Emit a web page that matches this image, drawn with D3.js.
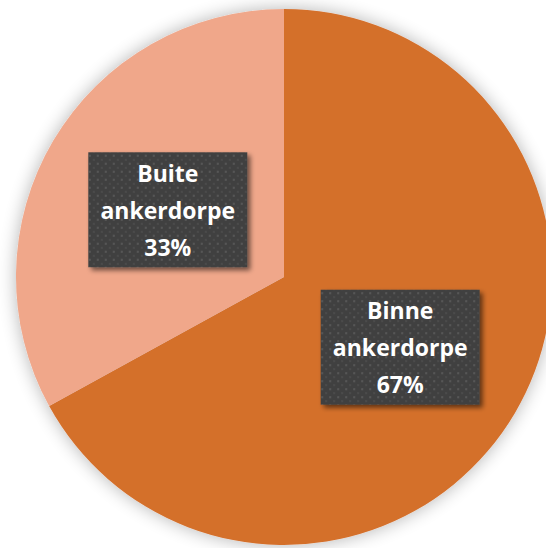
<!DOCTYPE html>
<html>
<head>
<meta charset="utf-8">
<script src="https://cdn.jsdelivr.net/npm/d3@7"></script>
<style>
  body { margin: 0; background: #fff; }
  svg { display: block; }
</style>
</head>
<body>
<svg id="chart"></svg>
<script>
let categories = ['Binne ankerdorpe', 'Buite ankerdorpe'];
let labelLines = [['Binne', 'ankerdorpe'], ['Buite', 'ankerdorpe']];
let values = [67, 33];
let sliceColors = ['#d46f2c', '#f0a78a'];

let width = 546, height = 548;
let cx = 284, cy = 277, radius = 268;

let chart = d3.select('#chart')
  .attr('width', width)
  .attr('height', height);

let defs = chart.append('defs');

// soft glow behind the pie
let glow = defs.append('filter').attr('id', 'pieShadow')
  .attr('x', '-20%').attr('y', '-20%').attr('width', '140%').attr('height', '140%');
glow.append('feGaussianBlur').attr('in', 'SourceAlpha').attr('stdDeviation', 9).attr('result', 'b');
glow.append('feComponentTransfer').attr('in', 'b').attr('result', 'c')
  .append('feFuncA').attr('type', 'linear').attr('slope', 0.3);
let gm = glow.append('feMerge');
gm.append('feMergeNode').attr('in', 'c');
gm.append('feMergeNode').attr('in', 'SourceGraphic');

// label box shadow
let boxShadow = defs.append('filter').attr('id', 'boxShadow')
  .attr('x', '-20%').attr('y', '-20%').attr('width', '150%').attr('height', '150%');
boxShadow.append('feGaussianBlur').attr('in', 'SourceAlpha').attr('stdDeviation', 2.5).attr('result', 'b');
boxShadow.append('feOffset').attr('in', 'b').attr('dx', 3).attr('dy', 3).attr('result', 'o');
boxShadow.append('feComponentTransfer').attr('in', 'o').attr('result', 'c')
  .append('feFuncA').attr('type', 'linear').attr('slope', 0.55);
let bm = boxShadow.append('feMerge');
bm.append('feMergeNode').attr('in', 'c');
bm.append('feMergeNode').attr('in', 'SourceGraphic');

// dotted texture for label boxes
let pat = defs.append('pattern').attr('id', 'dots')
  .attr('patternUnits', 'userSpaceOnUse').attr('width', 8).attr('height', 8);
pat.append('rect').attr('width', 8).attr('height', 8).attr('fill', '#414141');
pat.append('rect').attr('x', 1).attr('y', 1).attr('width', 2).attr('height', 2).attr('fill', '#575757');
pat.append('rect').attr('x', 5).attr('y', 5).attr('width', 2).attr('height', 2).attr('fill', '#4c4c4c');

let pie = d3.pie().sort(null).value(function(d){ return d; });
let arcs = pie(values);

let arc = d3.arc().innerRadius(0).outerRadius(radius);
let labelArc = d3.arc().innerRadius(135).outerRadius(135);

let g = chart.append('g').attr('transform', 'translate(' + cx + ',' + cy + ')');

g.append('g').attr('filter', 'url(#pieShadow)')
  .selectAll('path')
  .data(arcs)
  .enter().append('path')
  .attr('d', arc)
  .attr('fill', function(d, i){ return sliceColors[i]; });

let boxW = 159, boxH = 115;
let labels = g.selectAll('g.label')
  .data(arcs)
  .enter().append('g')
  .attr('class', 'label')
  .attr('transform', function(d){
    let c = labelArc.centroid(d);
    return 'translate(' + c[0] + ',' + (c[1] + 1.5) + ')';
  });

labels.append('rect')
  .attr('x', -boxW / 2).attr('y', -boxH / 2)
  .attr('width', boxW).attr('height', boxH)
  .attr('fill', 'url(#dots)')
  .attr('filter', 'url(#boxShadow)');

labels.append('text')
  .attr('text-anchor', 'middle')
  .attr('fill', '#fff')
  .style('font-family', '"Open Sans", sans-serif')
  .style('font-weight', 'bold')
  .style('font-size', '23px')
  .selectAll('tspan')
  .data(function(d, i){ return labelLines[i].concat([Math.round(values[i]) + '%']); })
  .enter().append('tspan')
  .attr('x', 0)
  .attr('y', function(d, j){ return -28 + j * 37; })
  .text(function(d){ return d; });
</script>
</body>
</html>
